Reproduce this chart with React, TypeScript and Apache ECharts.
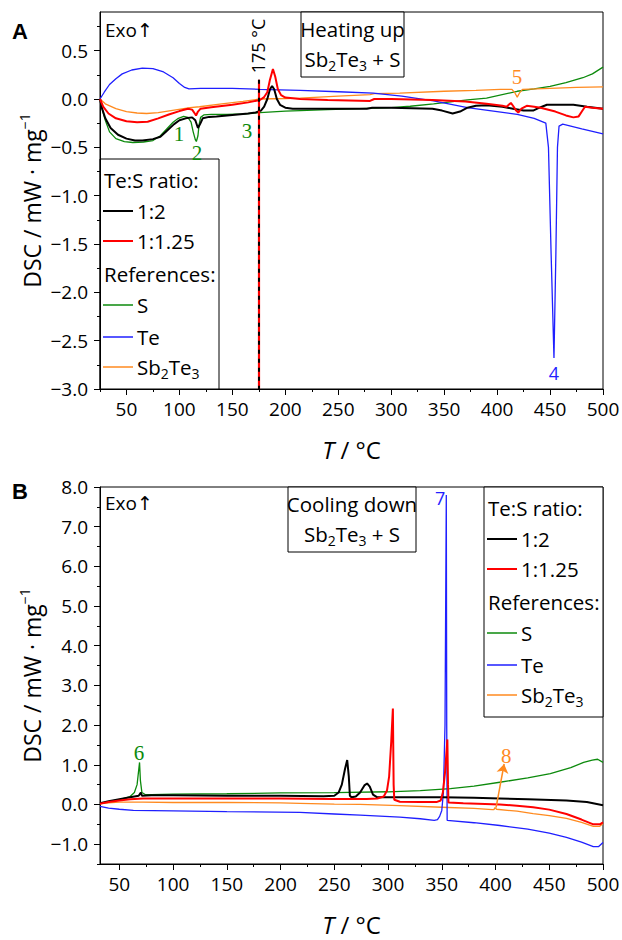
import React, { useEffect, useRef } from "react";
import * as echarts from "echarts";

const SANS = '"Open Sans", "DejaVu Sans", sans-serif';
const SERIF = '"Liberation Serif", "DejaVu Serif", serif';

const C_BLACK = "#000000";
const C_RED = "#ff0000";
const C_GREEN = "#0c8a0c";
const C_BLUE = "#1f1fff";
const C_ORANGE = "#ff8a1f";

// ---------- tick values ----------
const heatXMajor = [50, 100, 150, 200, 250, 300, 350, 400, 450, 500];
const heatXMinor = [25, 75, 125, 175, 225, 275, 325, 375, 425, 475];
const heatYMajor = [-3, -2.5, -2, -1.5, -1, -0.5, 0, 0.5];
const heatYMinor = [-2.75, -2.25, -1.75, -1.25, -0.75, -0.25, 0.25, 0.75];
const coolXMajor = [50, 100, 150, 200, 250, 300, 350, 400, 450, 500];
const coolXMinor = [75, 125, 175, 225, 275, 325, 375, 425, 475];
const coolYMajor = [-1, 0, 1, 2, 3, 4, 5, 6, 7, 8];
const coolYMinor = [-1.5, -0.5, 0.5, 1.5, 2.5, 3.5, 4.5, 5.5, 6.5, 7.5];

// ---------- heating (A) [T, DSC] ----------
const heatS = [
  [25, 0], [27, -0.1], [30, -0.22], [34, -0.34], [40, -0.41], [48, -0.44], [56, -0.45], [66, -0.445],
  [75, -0.43], [82, -0.38], [88, -0.31], [94, -0.24], [99, -0.2], [104, -0.18], [108, -0.19],
  [111, -0.24], [113, -0.34], [115, -0.42], [116, -0.44], [117.5, -0.38], [118.5, -0.27], [120, -0.19],
  [123, -0.165], [130, -0.16], [145, -0.16], [160, -0.155], [176, -0.14], [200, -0.125], [214, -0.12],
  [240, -0.11], [270, -0.1], [300, -0.09], [318, -0.075], [340, -0.05], [372, -0.01], [390, 0.01],
  [419, 0.08], [435, 0.105], [450, 0.13], [465, 0.17], [481, 0.22], [490, 0.26], [500, 0.33],
];
const heatTe = [
  [25, 0], [29, 0.07], [34, 0.15], [40, 0.21], [46, 0.26], [55, 0.3], [65, 0.32], [75, 0.315],
  [85, 0.28], [94, 0.22], [100, 0.16], [105, 0.12], [109, 0.105], [120, 0.11], [150, 0.11],
  [176, 0.1], [214, 0.09], [250, 0.075], [283, 0.06], [310, 0.03], [340, -0.02], [372, -0.09],
  [400, -0.13], [419, -0.16], [435, -0.2], [446, -0.25], [448.5, -0.5], [451, -1.6], [453.7, -2.68],
  [455.5, -1.6], [457, -0.5], [458.5, -0.28], [462, -0.26], [480, -0.31], [500, -0.36],
];
const heatSbTe = [
  [25, 0], [30, -0.05], [40, -0.1], [50, -0.13], [60, -0.145], [69, -0.15], [80, -0.14], [95, -0.115],
  [110, -0.09], [119, -0.08], [140, -0.05], [160, -0.025], [176, 0.0], [200, 0.005], [214, 0.01],
  [250, 0.03], [280, 0.045], [284, 0.055], [308, 0.06], [350, 0.08], [380, 0.09], [403, 0.1],
  [414, 0.1], [417, 0.06], [419, 0.02], [421, 0.06], [424, 0.1], [450, 0.11], [475, 0.12], [500, 0.125],
];
const heat12 = [
  [25, 0], [27, -0.1], [30, -0.2], [35, -0.3], [42, -0.37], [50, -0.41], [58, -0.43], [65, -0.43],
  [75, -0.415], [82, -0.39], [88, -0.33], [95, -0.26], [100, -0.22], [106, -0.2], [112, -0.19],
  [115, -0.22], [117.5, -0.3], [119.5, -0.26], [122, -0.2], [128, -0.185], [135, -0.18], [150, -0.165],
  [165, -0.15], [172, -0.14], [177, -0.12], [180, -0.08], [183, 0.0], [185.5, 0.1], [187.5, 0.135],
  [189.5, 0.1], [192, 0.0], [195, -0.06], [200, -0.09], [207, -0.1], [240, -0.1], [277, -0.1],
  [282, -0.09], [300, -0.09], [339, -0.1], [348, -0.12], [358, -0.15], [365, -0.13], [372, -0.09],
  [380, -0.07], [390, -0.065], [405, -0.08], [415, -0.1], [425, -0.12], [434, -0.12], [440, -0.09],
  [447, -0.06], [472, -0.06], [485, -0.08], [500, -0.1],
];
const heat1125 = [
  [25, 0], [28, -0.08], [33, -0.15], [40, -0.2], [50, -0.23], [60, -0.24], [70, -0.235], [80, -0.2],
  [90, -0.16], [100, -0.125], [108, -0.1], [112, -0.11], [114.5, -0.15], [115.7, -0.17], [117.5, -0.13],
  [120, -0.1], [130, -0.085], [150, -0.06], [165, -0.035], [176, -0.01], [180, 0.02], [183, 0.07],
  [185.5, 0.2], [188.3, 0.31], [190.5, 0.23], [193, 0.1], [196, 0.04], [200, 0.015], [214, 0.0],
  [240, -0.01], [280, -0.02], [284, 0.0], [300, 0.0], [339, -0.01], [370, -0.025], [390, -0.05],
  [405, -0.07], [409, -0.08], [411, -0.06], [413, -0.04], [415, -0.07], [418, -0.12], [420, -0.14],
  [423, -0.1], [428, -0.07], [435, -0.08], [441, -0.09], [455, -0.13], [465, -0.17], [472, -0.19],
  [477, -0.18], [480, -0.13], [483, -0.08], [490, -0.09], [500, -0.1],
];

// ---------- cooling (B) [T, DSC] ----------
const coolS = [
  [32, 0.02], [40, 0.07], [50, 0.12], [60, 0.2], [64, 0.3], [66.5, 0.5], [68.8, 1.06], [69.6, 0.6],
  [71, 0.3], [74, 0.25], [80, 0.25], [100, 0.26], [150, 0.27], [200, 0.29], [250, 0.3], [300, 0.32],
  [330, 0.35], [358, 0.4], [380, 0.46], [404, 0.56], [430, 0.67], [451, 0.78], [470, 0.93],
  [482, 1.06], [490, 1.12], [495, 1.14], [500, 1.06],
];
const coolTe = [
  [32, -0.05], [40, -0.09], [50, -0.12], [63, -0.15], [100, -0.16], [150, -0.18], [218, -0.2],
  [250, -0.24], [274, -0.27], [311, -0.32], [330, -0.36], [343, -0.4], [346, -0.38], [348, -0.3],
  [350, -0.15], [351.5, 0.3], [353, 2.0], [354.2, 7.8], [354.6, 2.0], [355, -0.4], [380, -0.46],
  [404, -0.53], [430, -0.62], [450, -0.72], [466, -0.83], [480, -0.95], [491, -1.06], [496, -1.06],
  [500, -0.96],
];
const coolSbTe = [
  [32, 0.02], [40, 0.04], [50, 0.06], [72, 0.06], [100, 0.05], [150, 0.05], [200, 0.04], [218, 0.03],
  [250, 0.01], [274, 0.0], [311, -0.03], [350, -0.07], [380, -0.1], [397, -0.13], [398.5, -0.13],
  [399.5, -0.08], [401, -0.12], [420, -0.17], [435, -0.23], [450, -0.28], [466, -0.35], [480, -0.45],
  [491, -0.55], [497, -0.55], [500, -0.48],
];
const cool12 = [
  [32, 0.03], [40, 0.08], [50, 0.13], [60, 0.18], [68, 0.22], [70, 0.3], [71, 0.22], [80, 0.23],
  [100, 0.23], [150, 0.22], [200, 0.22], [240, 0.21], [250, 0.22], [254, 0.3], [257, 0.5], [260, 0.9],
  [262, 1.12], [263.5, 0.7], [264.5, 0.22], [266, 0.18], [270, 0.2], [274, 0.3], [278, 0.48],
  [280.5, 0.53], [283, 0.45], [286, 0.25], [290, 0.18], [300, 0.18], [350, 0.18], [380, 0.17],
  [404, 0.15], [430, 0.13], [466, 0.1], [485, 0.06], [500, -0.02],
];
const cool1125 = [
  [32, 0.02], [40, 0.06], [50, 0.1], [60, 0.13], [72, 0.15], [100, 0.15], [150, 0.15], [200, 0.15],
  [250, 0.14], [280, 0.14], [290, 0.15], [296, 0.2], [299, 0.35], [301, 0.7], [303, 1.6], [304.5, 2.42],
  [305.2, 0.5], [305.8, 0.12], [311, 0.07], [330, 0.06], [345, 0.06], [349, 0.1], [351, 0.3], [353, 0.8],
  [355.2, 1.64], [355.8, 0.5], [356.2, 0.05], [370, 0.03], [404, 0.0], [420, -0.03], [435, -0.07],
  [450, -0.13], [466, -0.24], [480, -0.38], [491, -0.5], [497, -0.5], [500, -0.45],
];

// ---------- annotations [T, DSC, text] ----------
const heatNotesS = [[99.6, -0.36, "1"], [116.6, -0.56, "2"], [163.8, -0.33, "3"]];
const heatNoteTe = [453.7, -2.83, "4"];
const heatNoteSbTe = [418.8, 0.23, "5"];
const coolNoteS = [68.3, 1.29, "6"];
const coolNoteTe = [348.5, 7.72, "7"];
const coolNoteSbTe = [410, 1.22, "8"];
const coolArrow = [[400.5, -0.08], [408, 1.02]];
const markTemp = 175;
const markRange = [0.2, -3.0];

const fmtY = (v: number) => v.toFixed(1).replace("-", "\u2212");
const fmtX = (v: number) => String(v);

function xAxes(grid: number, min: number, max: number, major: number[], minor: number[]) {
  return [
    {
      type: "value", gridIndex: grid, min, max, position: "bottom",
      axisLine: { show: true, onZero: false, lineStyle: { color: "#000", width: 1 } },
      axisTick: { show: true, customValues: major, length: 6, inside: false, lineStyle: { color: "#000", width: 1 } },
      axisLabel: { show: true, customValues: major, formatter: fmtX, color: "#000", fontSize: 19, fontFamily: SANS, margin: 10 },
      splitLine: { show: false },
      name: "{i|T}{n| / °C}", nameLocation: "middle", nameGap: 48, nameMoveOverlap: false,
      nameTextStyle: {
        rich: {
          i: { fontSize: 24, fontStyle: "italic", fontFamily: SANS, color: "#000" },
          n: { fontSize: 24, fontFamily: SANS, color: "#000" },
        },
      },
    },
    {
      type: "value", gridIndex: grid, min, max, position: "bottom",
      axisLine: { show: false, onZero: false },
      axisTick: { show: true, customValues: minor, length: 3, inside: false, lineStyle: { color: "#000", width: 1 } },
      axisLabel: { show: false },
      splitLine: { show: false },
    },
  ];
}

function yAxes(grid: number, min: number, max: number, major: number[], minor: number[]) {
  return [
    {
      type: "value", gridIndex: grid, min, max, position: "left",
      axisLine: { show: true, onZero: false, lineStyle: { color: "#000", width: 1 } },
      axisTick: { show: true, customValues: major, length: 6, inside: false, lineStyle: { color: "#000", width: 1 } },
      axisLabel: { show: true, customValues: major, formatter: fmtY, color: "#000", fontSize: 19, fontFamily: SANS, margin: 12 },
      splitLine: { show: false },
      name: "{n|DSC / mW · mg}{s|\u22121}", nameLocation: "middle", nameGap: 54, nameMoveOverlap: false,
      nameTextStyle: {
        rich: {
          n: { fontSize: 23, fontFamily: SANS, color: "#000", lineHeight: 29 },
          s: { fontSize: 14, fontFamily: SANS, color: "#000", lineHeight: 14, verticalAlign: "top" },
        },
      },
    },
    {
      type: "value", gridIndex: grid, min, max, position: "left",
      axisLine: { show: false, onZero: false },
      axisTick: { show: true, customValues: minor, length: 3, inside: false, lineStyle: { color: "#000", width: 1 } },
      axisLabel: { show: false },
      splitLine: { show: false },
    },
  ];
}

function line(name: string, data: number[][], color: string, width: number, xi: number, yi: number, extra: any = {}) {
  return {
    type: "line", name, data, xAxisIndex: xi, yAxisIndex: yi, showSymbol: false, symbol: "none",
    lineStyle: { color, width }, itemStyle: { color }, silent: true, z: 3, ...extra,
  };
}

function notes(list: any[], color: string, family: string, size: number) {
  return {
    silent: true,
    symbol: "circle", symbolSize: 1, itemStyle: { color: "rgba(0,0,0,0)" },
    label: { show: true, position: "inside", color, fontFamily: family, fontSize: size },
    data: list.map((n) => ({ coord: [n[0], n[1]], label: { formatter: n[2] } })),
  };
}

const richBase = {
  n: { fontSize: 20.5, fontFamily: SANS, color: "#000", lineHeight: 26 },
  b: { fontSize: 14, fontFamily: SANS, color: "#000", lineHeight: 14, verticalAlign: "bottom" },
};
const SBTE = "{n|Sb}{b|2}{n|Te}{b|3}";

const legendRows = [
  { head: "Te:S ratio:", dy: 21 },
  { color: C_BLACK, width: 2, label: "{n|1:2}", dy: 52 },
  { color: C_RED, width: 2, label: "{n|1:1.25}", dy: 82 },
  { head: "References:", dy: 115 },
  { color: C_GREEN, width: 1.5, label: "{n|S}", dy: 146 },
  { color: C_BLUE, width: 1.5, label: "{n|Te}", dy: 178 },
  { color: C_ORANGE, width: 1.5, label: SBTE, dy: 208 },
];

function legendBox(x: number, y: number, w: number, h: number) {
  const children: any[] = [
    { type: "rect", shape: { x, y, width: w, height: h }, style: { fill: "#fff", stroke: "#000", lineWidth: 1 } },
  ];
  legendRows.forEach((r: any) => {
    if (r.head) {
      children.push({ type: "text", x: x + 4, y: y + r.dy, style: { text: "{n|" + r.head + "}", rich: richBase, align: "left", verticalAlign: "middle" } });
    } else {
      children.push({ type: "line", shape: { x1: x + 3, y1: y + r.dy, x2: x + 33, y2: y + r.dy }, style: { stroke: r.color, lineWidth: r.width } });
      children.push({ type: "text", x: x + 37, y: y + r.dy, style: { text: r.label, rich: richBase, align: "left", verticalAlign: "middle" } });
    }
  });
  return { type: "group", z: 100, children };
}

function titleBox(x: number, y: number, w: number, h: number, l1: string) {
  return {
    type: "group", z: 100,
    children: [
      { type: "rect", shape: { x, y, width: w, height: h }, style: { fill: "#fff", stroke: "#000", lineWidth: 1 } },
      { type: "text", x: x + w / 2, y: y + 17, style: { text: "{n|" + l1 + "}", rich: richBase, align: "center", verticalAlign: "middle" } },
      { type: "text", x: x + w / 2, y: y + 47, style: { text: SBTE + "{n| + S}", rich: richBase, align: "center", verticalAlign: "middle" } },
    ],
  };
}

export default function App() {
  const ref = useRef<HTMLDivElement>(null);
  useEffect(() => {
    document.body.style.margin = "0";
    const chart = echarts.init(ref.current!, null, { renderer: "svg" });
    const option: any = {
      animation: false,
      backgroundColor: "#fff",
      grid: [
        { left: 100, right: 19, top: 12, height: 377, show: true, borderColor: "#000", borderWidth: 1, backgroundColor: "transparent", outerBoundsMode: "none" },
        { left: 100, right: 19, top: 487, height: 377, show: true, borderColor: "#000", borderWidth: 1, backgroundColor: "transparent", outerBoundsMode: "none" },
      ],
      xAxis: [...xAxes(0, 25, 500, heatXMajor, heatXMinor), ...xAxes(1, 32, 500, coolXMajor, coolXMinor)],
      yAxis: [...yAxes(0, -3, 0.9, heatYMajor, heatYMinor), ...yAxes(1, -1.5, 8, coolYMajor, coolYMinor)],
      series: [
        line("S", heatS, C_GREEN, 1.3, 0, 0, {
          markPoint: notes(heatNotesS, C_GREEN, SERIF, 21),
          markLine: {
            silent: true, symbol: ["none", "none"], label: { show: false },
            lineStyle: { color: C_RED, type: "solid", width: 2.2 },
            data: [[{ coord: [markTemp, markRange[0]] }, { coord: [markTemp, markRange[1]] }]],
          },
        }),
        line("Sb2Te3", heatSbTe, C_ORANGE, 1.3, 0, 0, { markPoint: notes([heatNoteSbTe], C_ORANGE, SERIF, 21) }),
        line("Te", heatTe, C_BLUE, 1.3, 0, 0, { markPoint: notes([heatNoteTe], C_BLUE, SANS, 18) }),
        line("1:2", heat12, C_BLACK, 2, 0, 0),
        line("1:1.25", heat1125, C_RED, 2, 0, 0, {
          markLine: {
            silent: true, symbol: ["none", "none"], label: { show: false },
            lineStyle: { color: C_BLACK, type: [4, 5], width: 2 },
            data: [[{ coord: [markTemp, markRange[0]] }, { coord: [markTemp, markRange[1]] }]],
          },
        }),
        line("S", coolS, C_GREEN, 1.3, 2, 2, { markPoint: notes([coolNoteS], C_GREEN, SERIF, 21) }),
        line("Sb2Te3", coolSbTe, C_ORANGE, 1.3, 2, 2, {
          markPoint: notes([coolNoteSbTe], C_ORANGE, SERIF, 21),
          markLine: {
            silent: true, symbol: ["none", "arrow"], symbolSize: 9, label: { show: false },
            lineStyle: { color: C_ORANGE, type: "solid", width: 1.5 },
            data: [[{ coord: coolArrow[0] }, { coord: coolArrow[1] }]],
          },
        }),
        line("Te", coolTe, C_BLUE, 1.3, 2, 2, { markPoint: notes([coolNoteTe], C_BLUE, SANS, 18) }),
        line("1:2", cool12, C_BLACK, 2, 2, 2),
        line("1:1.25", cool1125, C_RED, 2, 2, 2),
      ],
      graphic: [
        { type: "text", x: 20, y: 31, z: 100, style: { text: "A", fontSize: 22, fontWeight: "bold", fontFamily: '"Liberation Sans", Arial, sans-serif', fill: "#000", align: "center", verticalAlign: "middle" } },
        { type: "text", x: 20, y: 491, z: 100, style: { text: "B", fontSize: 22, fontWeight: "bold", fontFamily: '"Liberation Sans", Arial, sans-serif', fill: "#000", align: "center", verticalAlign: "middle" } },
        { type: "text", x: 105, y: 30, z: 100, style: { text: "Exo\u2191", fontSize: 19, fontFamily: SANS, fill: "#000", align: "left", verticalAlign: "middle" } },
        { type: "text", x: 105, y: 503, z: 100, style: { text: "Exo\u2191", fontSize: 19, fontFamily: SANS, fill: "#000", align: "left", verticalAlign: "middle" } },
        { type: "text", x: 258, y: 46, z: 100, rotation: Math.PI / 2, style: { text: "175 °C", fontSize: 18, fontFamily: SANS, fill: "#000", align: "center", verticalAlign: "middle" } },
        titleBox(301, 12, 103, 65, "Heating up"),
        titleBox(288, 487, 128, 65, "Cooling down"),
        legendBox(100, 159, 119, 230),
        legendBox(484, 487, 119, 230),
      ],
    };
    chart.setOption(option);
    return () => chart.dispose();
  }, []);
  return <div ref={ref} style={{ width: 622, height: 940 }} />;
}
